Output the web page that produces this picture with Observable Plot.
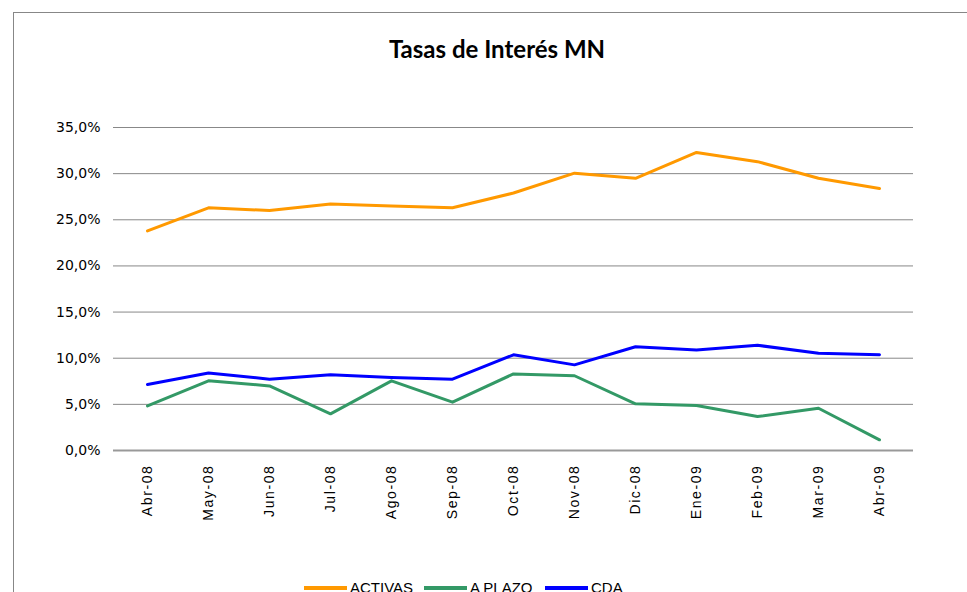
<!DOCTYPE html>
<html>
<head>
<meta charset="utf-8">
<script src="https://cdn.jsdelivr.net/npm/d3@7"></script>
<script src="https://cdn.jsdelivr.net/npm/@observablehq/plot@0.6"></script>
<style>
  html, body { margin: 0; padding: 0; background: #fff; }
  #wrap { position: relative; width: 967px; height: 592px; overflow: hidden; background: #fff; }
  #frame { position: absolute; left: 13px; top: 12px; width: 1000px; height: 700px;
           border-left: 1px solid #878787; border-top: 1px solid #878787; box-sizing: border-box; }
  #title { position: absolute; left: 0; top: 34px; width: 994px; text-align: center;
           font-family: Lato, "Open Sans", sans-serif; font-weight: bold; font-size: 24px; color: #000; }
  #chart { position: absolute; left: 0; top: 0; }
  #legend { position: absolute; left: 0; top: 579px; width: 967px; height: 30px;
            font-family: "Liberation Sans", Arial, sans-serif; font-size: 15px; color: #000; }
  .item { position: absolute; top: 0; white-space: nowrap; }
  .swatch { display: inline-block; width: 43px; height: 4px; vertical-align: middle; margin-right: 3px; position: relative; top: -1px; }
</style>
</head>
<body>
<div id="wrap">
  <div id="frame"></div>
  <div id="title">Tasas de Interés MN</div>
  <div id="chart"></div>
  <div id="legend"></div>
</div>
<script>
const meses = ["Abr-08","May-08","Jun-08","Jul-08","Ago-08","Sep-08","Oct-08","Nov-08","Dic-08","Ene-09","Feb-09","Mar-09","Abr-09"];
const activas = [23.8, 26.3, 26.0, 26.7, 26.5, 26.3, 27.9, 30.05, 29.5, 32.3, 31.3, 29.5, 28.4];
const aPlazo  = [4.84, 7.55, 7.0, 3.97, 7.55, 5.24, 8.3, 8.1, 5.06, 4.88, 3.68, 4.58, 1.16];
const cda     = [7.15, 8.4, 7.73, 8.2, 7.9, 7.73, 10.37, 9.28, 11.24, 10.9, 11.4, 10.55, 10.37];
const serieNames = ["ACTIVAS", "A PLAZO", "CDA"];
const yTicks = [0, 5, 10, 15, 20, 25, 30, 35];

const serieColors = ["#FF9900", "#339966", "#0000FF"];
const valuesBySerie = [activas, aPlazo, cda];

const data = [];
serieNames.forEach((s, i) => {
  valuesBySerie[i].forEach((v, j) => data.push({serie: s, mes: meses[j], valor: v}));
});

const fmt = d => d.toFixed(1).replace(".", ",") + "%";

const chart = Plot.plot({
  width: 967,
  height: 560,
  marginLeft: 113,
  marginRight: 54,
  marginTop: 127,
  marginBottom: 110,
  style: {background: "transparent", overflow: "visible"},
  x: {type: "point", domain: meses, padding: 0.5},
  y: {domain: [0, 35]},
  color: {domain: serieNames, range: serieColors},
  marks: [
    Plot.ruleY(yTicks, {stroke: "#888", strokeWidth: 1}),
    Plot.ruleY([0], {stroke: "#999", strokeWidth: 2}),
    Plot.axisY(yTicks, {tickSize: 0, tickPadding: 13, tickFormat: fmt, fontSize: 14,
      fontFamily: "DejaVu Sans", fill: "#000", label: null}),
    Plot.axisX({tickSize: 0, tickRotate: -90, tickPadding: 14, fontSize: 14,
      fontFamily: "Liberation Sans", fill: "#000", label: null}),
    Plot.lineY(data, {x: "mes", y: "valor", z: "serie", stroke: "serie", strokeWidth: 3})
  ]
});
chart.querySelectorAll("g[aria-label='x-axis tick label'] text").forEach(t => t.setAttribute("letter-spacing", "1.6px"));
document.getElementById("chart").appendChild(chart);

// legend
const legend = document.getElementById("legend");
const lefts = [304, 424, 545];
serieNames.forEach((s, i) => {
  const it = document.createElement("div");
  it.className = "item";
  it.style.left = lefts[i] + "px";
  const sw = document.createElement("span");
  sw.className = "swatch";
  sw.style.background = serieColors[i];
  it.appendChild(sw);
  it.appendChild(document.createTextNode(s));
  legend.appendChild(it);
});
</script>
</body>
</html>
